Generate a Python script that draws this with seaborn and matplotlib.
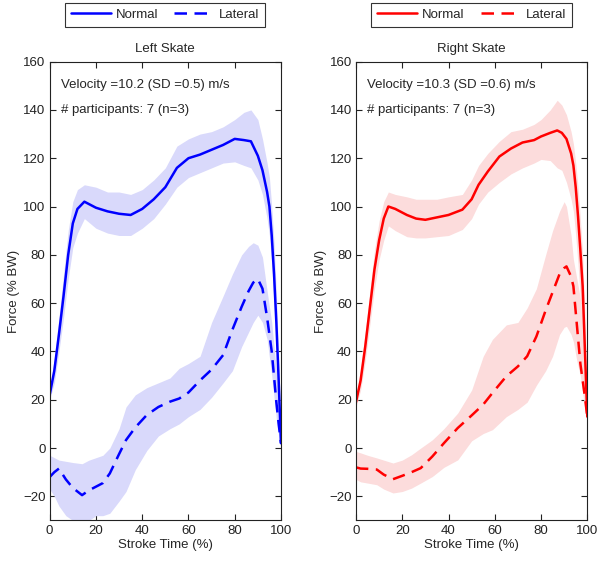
import matplotlib
matplotlib.use("Agg")
import matplotlib.pyplot as plt
import seaborn as sns
import numpy as np

# left skate, normal
ln_x = [0, 2, 4, 6, 8, 10, 12, 15, 20, 25, 30, 35, 40, 45, 50, 55, 60, 65, 70, 75, 80, 84, 87, 90, 92, 94, 95, 96, 97, 98, 99, 100]
ln_mean = [22, 32, 47, 63, 80, 93, 99, 102, 99.5, 98, 97, 96.5, 99, 103, 108, 116, 120, 121.5, 123.5, 125.5, 128, 127.5, 127, 121, 115, 106, 100, 88, 72, 52, 28, 2]
ln_lo = [20, 27, 40, 54, 70, 83, 89, 95, 91, 89, 88, 88, 91, 95, 101, 108, 112, 114, 116, 118, 118.5, 117, 116, 111, 105, 95, 88, 76, 60, 42, 20, 0]
ln_hi = [24, 37, 54, 72, 90, 102, 107, 109, 108, 106, 106, 105, 107, 111, 116, 125, 128, 130, 131, 133, 136, 139, 140, 136, 128, 118, 112, 100, 85, 64, 38, 6]

# left skate, lateral
ll_x = [0, 2, 4, 7, 10, 14, 17, 20, 23, 26, 30, 33, 37, 42, 47, 52, 56, 60, 65, 70, 75, 79, 83, 86, 88, 90, 92, 94, 96, 98, 99, 100]
ll_mean = [-12, -10, -8.5, -13, -16.5, -19.5, -17.5, -16, -14.5, -10.5, -2.5, 3.3, 8.5, 13.7, 17, 19.2, 20.5, 23, 28, 32.5, 38.5, 49, 58.5, 65, 68.5, 70, 66, 54, 40, 19, 10, 2]
ll_lo = [-17, -20, -24, -28, -30, -31, -30, -28, -28, -27, -22, -18, -9, -1, 5, 8, 10, 13, 16, 21, 27, 32, 42, 48, 52, 55, 52, 45, 30, 12, 5, 0]
ll_hi = [-3, -4, -5, -5.5, -6, -6.5, -5, -4, -3, 0, 8, 17, 22, 25, 27, 29, 33, 35, 38, 52, 63, 72, 80, 83.5, 85, 84, 79, 65, 52, 32, 20, 8]

# right skate, normal
rn_x = [0, 2, 4, 6, 8, 10, 12, 14, 17, 22, 26, 30, 35, 40, 46, 50, 53, 57, 62, 67, 72, 77, 80, 84, 87, 89, 91, 93, 94, 95, 96, 97, 98, 99, 100]
rn_mean = [19, 28, 42, 58, 74, 86, 95, 100, 99, 96.5, 95, 94.5, 95.5, 96.5, 98.7, 103, 109, 114.5, 120.7, 124, 126.5, 127.5, 129, 130.5, 131.5, 130.5, 128, 122, 117, 108, 96, 82, 67, 40, 13]
rn_lo = [17, 24, 36, 51, 66, 78, 86, 92, 90, 87.5, 87, 87, 87.5, 88, 90.5, 95, 101, 106, 110, 113.5, 116, 118, 119.5, 119, 116, 115, 110, 103, 98, 88, 76, 62, 46, 25, 10]
rn_hi = [21, 32, 48, 65, 82, 94, 102, 106, 105, 104, 103, 103, 103, 104, 105, 111, 117, 122, 127, 131, 132, 134, 136, 140, 144, 142, 138, 131, 126, 118, 108, 95, 80, 55, 18]

# right skate, lateral
rl_x = [0, 2, 5, 9, 12, 16, 20, 24, 28, 33, 38, 44, 50, 55, 59, 65, 70, 74, 78, 82, 85, 88, 90, 91, 93, 94, 95.5, 97, 99, 100]
rl_mean = [-8, -8.5, -8.6, -8.9, -11, -12.9, -11.5, -10, -8.3, -3.5, 2, 8.3, 13.5, 18, 22.8, 29.7, 33.8, 38, 46.2, 57, 64.5, 72, 74.5, 75.2, 71, 67, 51, 35, 21, 13]
rl_lo = [-13, -14, -14.5, -15.2, -17, -18.6, -18, -16.6, -14.5, -11.8, -8, -4.9, 3, 6, 7.6, 13, 16, 19, 26, 32, 38, 47, 50, 50.4, 47, 44, 36, 30, 16, 10]
rl_hi = [-1.4, -2, -3, -4.1, -5, -6.2, -5, -2.8, 0, 3.4, 8, 14.5, 24, 38, 45, 51, 52, 58, 66, 80, 90, 98, 102, 100, 88, 78, 70, 62, 42, 20]

titles = ["Left Skate", "Right Skate"]
notes = [["Velocity =10.2 (SD =0.5) m/s", "# participants: 7 (n=3)"],
         ["Velocity =10.3 (SD =0.6) m/s", "# participants: 7 (n=3)"]]

sns.set_theme(style="ticks")
plt.rcParams["font.family"] = ["Liberation Sans", "DejaVu Sans"]
plt.rcParams["font.size"] = 9.5

fig = plt.figure(figsize=(6, 5.61), dpi=100)
axes = [fig.add_axes([0.0828, 0.0722, 0.3855, 0.818]),
        fig.add_axes([0.5933, 0.0722, 0.3855, 0.818])]

panels = [
    (axes[0], "#0000ff", "#d9d9fb", (ln_x, ln_mean, ln_lo, ln_hi), (ll_x, ll_mean, ll_lo, ll_hi)),
    (axes[1], "#ff0000", "#fcdcdc", (rn_x, rn_mean, rn_lo, rn_hi), (rl_x, rl_mean, rl_lo, rl_hi)),
]

for i, (ax, col, band, norm, lat) in enumerate(panels):
    ax.fill_between(norm[0], norm[2], norm[3], color=band, lw=0)
    ax.fill_between(lat[0], lat[2], lat[3], color=band, lw=0)
    sns.lineplot(x=norm[0], y=norm[1], ax=ax, color=col, lw=1.8, label="Normal")
    sns.lineplot(x=lat[0], y=lat[1], ax=ax, color=col, lw=1.8,
                 linestyle=(0, (5, 3)), label="Lateral")
    ax.set_xlim(0, 100)
    ax.set_ylim(-30, 160)
    ax.set_xticks(range(0, 101, 20))
    ax.set_yticks(range(-20, 161, 20))
    ax.tick_params(direction="in", top=True, right=True, length=4, width=0.8,
                   labelsize=9.5, colors="#222222", pad=3)
    for s in ax.spines.values():
        s.set_linewidth(0.8)
        s.set_color("#222222")
    ax.set_title(titles[i], fontsize=9.5, pad=7)
    ax.set_xlabel("Stroke Time (%)", fontsize=9.5, labelpad=2)
    ax.set_ylabel("Force (% BW)", fontsize=9.5, labelpad=2)
    ax.text(4.7, 150.5, notes[i][0], fontsize=9.5, va="center", ha="left")
    ax.text(4.7, 140, notes[i][1], fontsize=9.5, va="center", ha="left")
    leg = ax.legend(loc="upper center", bbox_to_anchor=(0.5, 1.128), ncol=2,
                    frameon=True, fancybox=False, edgecolor="black",
                    handlelength=3.0, columnspacing=1.2, borderpad=0.45,
                    borderaxespad=0.0, handletextpad=0.4, fontsize=9.5)
    leg.get_frame().set_linewidth(0.8)

fig.savefig("out.png", dpi=100)
